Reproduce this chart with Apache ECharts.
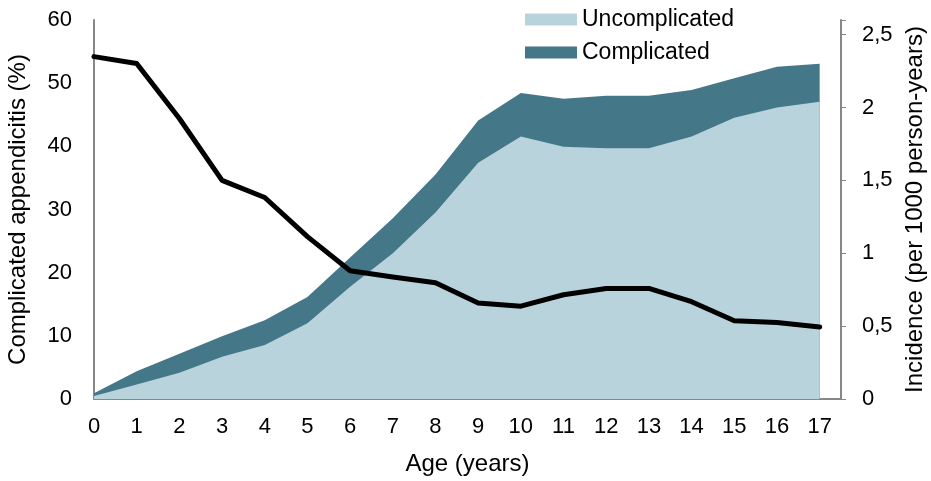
<!DOCTYPE html>
<html>
<head>
<meta charset="utf-8">
<script src="https://cdn.jsdelivr.net/npm/echarts@6/dist/echarts.min.js"></script>
<style>
  html, body { margin: 0; padding: 0; background: #fff; }
  #chart { width: 931px; height: 481px; }
</style>
</head>
<body>
<div id="chart"></div>
<script>
// age in years
const ages = [0, 1, 2, 3, 4, 5, 6, 7, 8, 9, 10, 11, 12, 13, 14, 15, 16, 17];
// incidence per 1000 person-years (right axis, stacked)
const uncomplicated = [0.02, 0.10, 0.18, 0.29, 0.37, 0.52, 0.77, 1.00, 1.28, 1.62, 1.80, 1.73, 1.72, 1.72, 1.80, 1.93, 2.00, 2.04];
const complicated = [0.02, 0.09, 0.13, 0.14, 0.17, 0.18, 0.20, 0.24, 0.26, 0.29, 0.30, 0.33, 0.36, 0.36, 0.32, 0.27, 0.28, 0.26];
// share of complicated appendicitis, % (left axis)
const complicatedPct = [54.2, 53.1, 44.4, 34.6, 31.9, 25.7, 20.3, 19.3, 18.4, 15.2, 14.7, 16.5, 17.5, 17.5, 15.4, 12.4, 12.1, 11.4];

const FONT = '"Liberation Sans", Arial, sans-serif';
const AXIS_GREY = '#878787';
const LIGHT = '#b9d3dc';
const DARK = '#447787';

function pairs(vals) {
  return ages.map((a, i) => [a, vals[i]]);
}
// stacked top of the complicated band (two value axes, so stack by hand)
const totalIncidence = uncomplicated.map((u, i) => u + complicated[i]);

const chart = echarts.init(document.getElementById('chart'));
chart.setOption({
  animation: false,
  textStyle: { fontFamily: FONT, color: '#000' },
  grid: { left: 94, right: 90, top: 20, bottom: 82, containLabel: false, outerBoundsMode: 'none' },
  legend: {
    orient: 'vertical',
    left: 520,
    top: 3,
    icon: 'rect',
    itemWidth: 52,
    itemHeight: 12,
    itemGap: 10,
    textStyle: { fontSize: 23, color: '#000', fontFamily: FONT },
    data: ['Uncomplicated', 'Complicated']
  },
  xAxis: {
    type: 'value',
    min: 0,
    max: 17.5,
    interval: 1,
    name: 'Age (years)',
    nameLocation: 'middle',
    nameGap: 53,
    nameTextStyle: { fontSize: 24, color: '#000' },
    axisLine: { show: true, lineStyle: { color: AXIS_GREY, width: 2 } },
    axisTick: { show: false },
    splitLine: { show: false },
    axisLabel: {
      fontSize: 22, color: '#000', margin: 17,
      formatter: v => (v % 1 === 0 ? String(v) : '')
    }
  },
  yAxis: [
    {
      type: 'value',
      min: 0,
      max: 60,
      interval: 10,
      name: 'Complicated appendicitis (%)',
      nameLocation: 'middle',
      nameGap: 64,
      nameTextStyle: { fontSize: 24, color: '#000' },
      axisLine: { show: true, lineStyle: { color: AXIS_GREY, width: 2 } },
      axisTick: { show: false },
      splitLine: { show: false },
      axisLabel: { fontSize: 22, color: '#000', margin: 22 }
    },
    {
      type: 'value',
      position: 'right',
      min: 0,
      max: 2.6,
      interval: 0.5,
      name: 'Incidence (per 1000 person-years)',
      nameLocation: 'middle',
      nameGap: 58,
      nameTextStyle: { fontSize: 24, color: '#000' },
      axisLine: { show: true, lineStyle: { color: AXIS_GREY, width: 2 } },
      axisTick: { show: true, length: 5, lineStyle: { color: AXIS_GREY, width: 1 } },
      splitLine: { show: false },
      axisLabel: {
        fontSize: 22, color: '#000', margin: 21,
        formatter: v => (Math.abs(v * 2 - Math.round(v * 2)) < 1e-6 ? String(v).replace('.', ',') : '')
      }
    }
  ],
  series: [
    {
      name: 'Complicated',
      type: 'line',
      yAxisIndex: 1,
      data: pairs(totalIncidence),
      showSymbol: false,
      symbol: 'none',
      lineStyle: { width: 0 },
      itemStyle: { color: DARK },
      areaStyle: { color: DARK, opacity: 1 },
      z: 1
    },
    {
      name: 'Uncomplicated',
      type: 'line',
      yAxisIndex: 1,
      data: pairs(uncomplicated),
      showSymbol: false,
      symbol: 'none',
      lineStyle: { width: 0 },
      itemStyle: { color: LIGHT },
      areaStyle: { color: LIGHT, opacity: 1 },
      z: 2
    },
    {
      name: 'Complicated %',
      type: 'line',
      yAxisIndex: 0,
      data: pairs(complicatedPct),
      showSymbol: false,
      symbol: 'none',
      lineStyle: { color: '#000', width: 5, cap: 'round', join: 'round' },
      itemStyle: { color: '#000' },
      z: 3
    }
  ]
});
</script>
</body>
</html>
